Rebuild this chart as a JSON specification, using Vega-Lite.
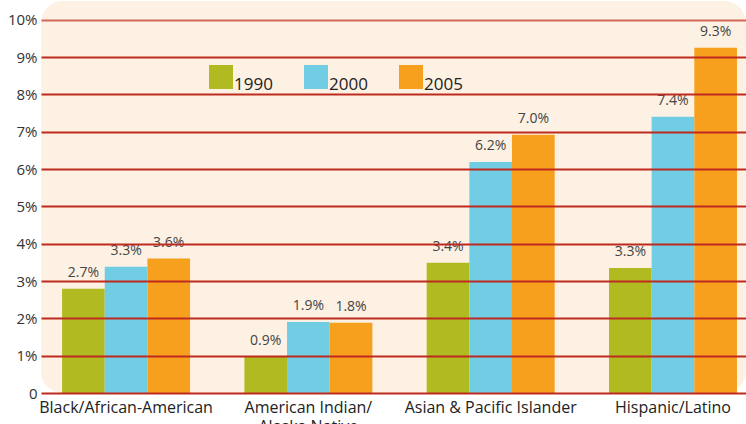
{
  "$schema": "https://vega.github.io/schema/vega-lite/v6.json",
  "width": 705,
  "height": 392,
  "autosize": {"type": "none"},
  "padding": {"left": 41, "top": 1, "right": 0, "bottom": 31},
  "background": "white",
  "config": {"font": "Open Sans", "view": {"stroke": null}},
  "view": {"fill": "#fdf1e3", "stroke": null, "cornerRadius": 22},
  "data": {"values": [
    {"group": "Black/African-American", "year": "1990", "value": 2.79, "label": "2.7%"},
    {"group": "Black/African-American", "year": "2000", "value": 3.38, "label": "3.3%"},
    {"group": "Black/African-American", "year": "2005", "value": 3.6, "label": "3.6%"},
    {"group": "American Indian/Alaska Native", "year": "1990", "value": 0.97, "label": "0.9%"},
    {"group": "American Indian/Alaska Native", "year": "2000", "value": 1.9, "label": "1.9%"},
    {"group": "American Indian/Alaska Native", "year": "2005", "value": 1.88, "label": "1.8%"},
    {"group": "Asian & Pacific Islander", "year": "1990", "value": 3.49, "label": "3.4%"},
    {"group": "Asian & Pacific Islander", "year": "2000", "value": 6.19, "label": "6.2%"},
    {"group": "Asian & Pacific Islander", "year": "2005", "value": 6.92, "label": "7.0%"},
    {"group": "Hispanic/Latino", "year": "1990", "value": 3.35, "label": "3.3%"},
    {"group": "Hispanic/Latino", "year": "2000", "value": 7.4, "label": "7.4%"},
    {"group": "Hispanic/Latino", "year": "2005", "value": 9.25, "label": "9.3%"}
  ]},
  "encoding": {
    "x": {
      "field": "group", "type": "nominal",
      "sort": ["Black/African-American", "American Indian/Alaska Native", "Asian & Pacific Islander", "Hispanic/Latino"],
      "scale": {"paddingInner": 0.298, "paddingOuter": 0.0826, "align": 0.7},
      "axis": {
        "title": null, "domain": false, "ticks": false, "grid": false,
        "labelAngle": 0, "labelFontSize": 16, "labelColor": "#222", "labelPadding": 6, "labelLimit": 300,
        "labelLineHeight": 19,
        "labelExpr": "datum.label == 'American Indian/Alaska Native' ? ['American Indian/', 'Alaska Native'] : datum.label"
      }
    },
    "xOffset": {"field": "year", "type": "nominal"},
    "y": {
      "field": "value", "type": "quantitative",
      "scale": {"domain": [0, 10.5], "nice": false, "zero": true},
      "axis": {
        "title": null, "domain": false, "ticks": false, "zindex": 1,
        "values": [0, 1, 2, 3, 4, 5, 6, 7, 8, 9, 10],
        "labelExpr": "datum.value == 0 ? '0' : datum.value + '%'",
        "labelFontSize": 15, "labelColor": "#333", "labelPadding": 4,
        "gridColor": {"condition": {"test": "datum.value == 10", "value": "#d2685a"}, "value": "#bf2a20"},
        "gridWidth": 1.8, "gridOpacity": 1
      }
    }
  },
  "layer": [
    {
      "mark": {"type": "bar"},
      "encoding": {
        "color": {
          "field": "year", "type": "nominal",
          "scale": {"domain": ["1990", "2000", "2005"], "range": ["#afbb21", "#70cde4", "#f6a01e"]},
          "legend": {
            "orient": "none", "legendX": 168, "legendY": 64, "direction": "horizontal",
            "title": null, "padding": 0, "symbolType": "square", "symbolSize": 576,
            "symbolStrokeWidth": 0, "symbolOpacity": 1, "labelFontSize": 17, "labelOffset": 1,
            "columnPadding": 31, "labelBaseline": "top", "labelColor": "#222", "labelLimit": 200
          }
        }
      }
    },
    {
      "mark": {"type": "text", "baseline": "alphabetic", "dy": -12, "fontSize": 14, "color": "#444"},
      "encoding": {"text": {"field": "label"}}
    }
  ]
}
